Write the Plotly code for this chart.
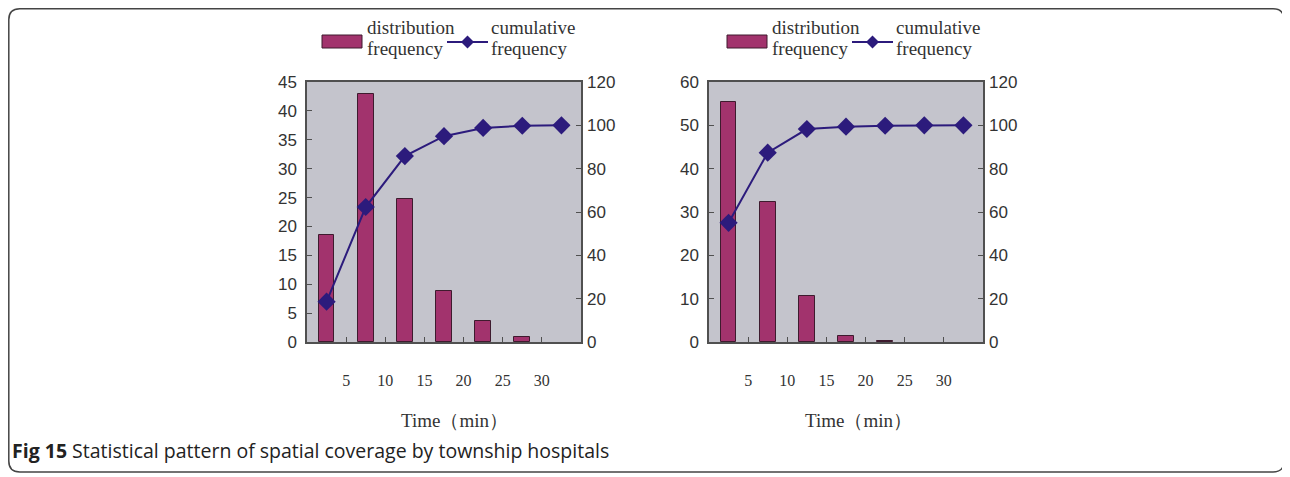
import plotly.graph_objects as go

# ---------------- data ----------------
slots = [0, 1, 2, 3, 4, 5, 6]
tick_pos = [0.5, 1.5, 2.5, 3.5, 4.5, 5.5]
tick_text = ["5", "10", "15", "20", "25", "30"]

left_dist = [18.6, 43.0, 24.7, 8.8, 3.6, 0.9, None]
left_cum = [18.6, 62.3, 85.8, 95.0, 98.8, 99.8, 100.0]

right_dist = [55.3, 32.3, 10.6, 1.4, 0.3, None, None]
right_cum = [55.0, 87.4, 98.3, 99.4, 99.8, 100.0, 100.0]

legend_bar = ["distribution", "frequency"]
legend_line = ["cumulative", "frequency"]
x_title = "Time（min）"
caption_bold = "Fig 15"
caption_rest = " Statistical pattern of spatial coverage by township hospitals"

# ---------------- style ----------------
BAR = "#A2336D"
BAR_EDGE = "#3E1B2E"
LINE = "#2C1B7C"
BG = "#C4C4CC"
AXC = "#505050"
TXT = "#333333"

OFF = 8               # page offset of the figure div
W, H = 1290 - OFF, 477 - OFF


def px(x):
    return (x - OFF) / W


def py(y):
    return 1 - (y - OFF) / H


fig = go.Figure()

fig.add_trace(go.Bar(x=slots, y=left_dist, width=0.4, marker=dict(color=BAR, line=dict(color=BAR_EDGE, width=1)),
                     xaxis="x", yaxis="y", showlegend=False))
fig.add_trace(go.Scatter(x=slots, y=left_cum, mode="lines+markers", line=dict(color=LINE, width=2),
                         marker=dict(symbol="diamond", size=14, color=LINE),
                         xaxis="x", yaxis="y2", showlegend=False))
fig.add_trace(go.Bar(x=slots, y=right_dist, width=0.4, marker=dict(color=BAR, line=dict(color=BAR_EDGE, width=1)),
                     xaxis="x2", yaxis="y3", showlegend=False))
fig.add_trace(go.Scatter(x=slots, y=right_cum, mode="lines+markers", line=dict(color=LINE, width=2),
                         marker=dict(symbol="diamond", size=14, color=LINE),
                         xaxis="x2", yaxis="y4", showlegend=False))

ydom = [py(342), py(82)]
xd1 = [px(307), px(581)]
xd2 = [px(709), px(983)]

xcommon = dict(range=[-0.5, 6.5], tickmode="array", tickvals=tick_pos, ticktext=tick_text,
               ticks="inside", ticklen=5, tickcolor=AXC, tickwidth=1,
               showline=True, mirror=True, linecolor=AXC, linewidth=1.5, showgrid=False, zeroline=False,
               tickfont=dict(family="Liberation Serif", size=16, color=TXT), ticklabelstandoff=23,
               fixedrange=True)
ycommon = dict(ticks="inside", ticklen=5, tickcolor=AXC, tickwidth=1, showgrid=False, zeroline=False,
               tickfont=dict(family="Liberation Sans", size=17, color=TXT), ticklabelstandoff=5)

fig.update_layout(
    width=W, height=H, margin=dict(l=0, r=0, t=0, b=0, autoexpand=False),
    paper_bgcolor="white", plot_bgcolor=BG, bargap=0,
    xaxis=dict(domain=xd1, anchor="y", **xcommon),
    yaxis=dict(domain=ydom, anchor="x", range=[0, 45], dtick=5, showline=True, mirror=True,
               linecolor=AXC, linewidth=1.5, **ycommon),
    yaxis2=dict(overlaying="y", anchor="x", side="right", range=[0, 120], dtick=20, showline=False, **ycommon),
    xaxis2=dict(domain=xd2, anchor="y3", **xcommon),
    yaxis3=dict(domain=ydom, anchor="x2", range=[0, 60], dtick=10, showline=True, mirror=True,
                linecolor=AXC, linewidth=1.5, **ycommon),
    yaxis4=dict(overlaying="y3", anchor="x2", side="right", range=[0, 120], dtick=20, showline=False, **ycommon),
)

shapes = []
annotations = []
serif = dict(family="Liberation Serif", size=19, color=TXT)

# manual legends above each chart
for x0 in (322, 727):
    shapes.append(dict(type="rect", xref="paper", yref="paper", x0=px(x0), x1=px(x0 + 40), y0=py(48), y1=py(35),
                       fillcolor=BAR, line=dict(color=BAR_EDGE, width=1)))
    for i, yy in enumerate((28, 48)):
        annotations.append(dict(xref="paper", yref="paper", x=px(x0 + 43), y=py(yy), text=legend_bar[i],
                                showarrow=False, xanchor="left", yanchor="middle", font=serif))
    lx0, lx1 = x0 + 125, x0 + 166
    shapes.append(dict(type="line", xref="paper", yref="paper", x0=px(lx0), x1=px(lx1), y0=py(42), y1=py(42),
                       line=dict(color=LINE, width=2)))
    cx, cy, r = (lx0 + lx1) / 2, 42, 6.5
    shapes.append(dict(type="path", xref="paper", yref="paper",
                       path=f"M {px(cx - r)} {py(cy)} L {px(cx)} {py(cy - r)} L {px(cx + r)} {py(cy)} L {px(cx)} {py(cy + r)} Z",
                       fillcolor=LINE, line=dict(color=LINE, width=0)))
    for i, yy in enumerate((28, 48)):
        annotations.append(dict(xref="paper", yref="paper", x=px(lx1 + 1), y=py(yy), text=legend_line[i],
                                showarrow=False, xanchor="left", yanchor="middle", font=serif))

# x titles
for cx in (455, 858):
    annotations.append(dict(xref="paper", yref="paper", x=px(cx), y=py(420), text=x_title, showarrow=False,
                            xanchor="center", yanchor="middle",
                            font=dict(family="Liberation Serif", size=19, color=TXT)))

# caption
annotations.append(dict(xref="paper", yref="paper", x=px(10), y=py(450),
                        text=f"<b>{caption_bold}</b>{caption_rest}", showarrow=False,
                        xanchor="left", yanchor="middle",
                        font=dict(family="Open Sans", size=19.5, color="#222222")))

# rounded outer frame
L, T, R, B, rad = 8.8, 8.8, 1284, 472, 11
frame = (f"M {px(L + rad)} {py(T)} L {px(R - rad)} {py(T)} Q {px(R)} {py(T)} {px(R)} {py(T + rad)} "
         f"L {px(R)} {py(B - rad)} Q {px(R)} {py(B)} {px(R - rad)} {py(B)} "
         f"L {px(L + rad)} {py(B)} Q {px(L)} {py(B)} {px(L)} {py(B - rad)} "
         f"L {px(L)} {py(T + rad)} Q {px(L)} {py(T)} {px(L + rad)} {py(T)} Z")
shapes.append(dict(type="path", xref="paper", yref="paper", path=frame, line=dict(color="#444444", width=1.5)))

fig.update_layout(shapes=shapes, annotations=annotations)
fig.write_html("out.html")
